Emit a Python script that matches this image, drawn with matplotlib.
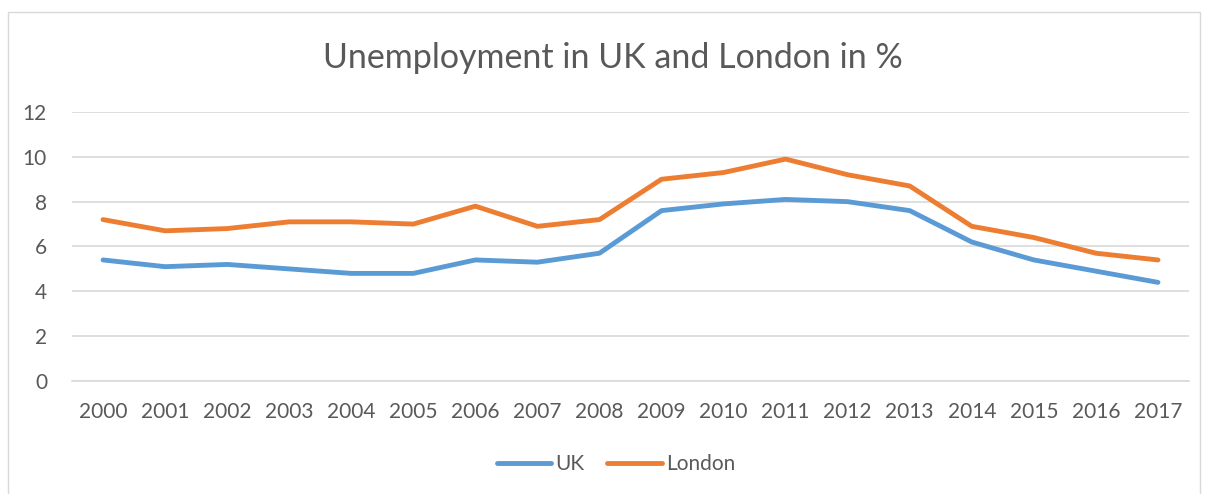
import matplotlib.pyplot as plt
from matplotlib.patches import Rectangle

# values
years = ['2000', '2001', '2002', '2003', '2004', '2005', '2006', '2007', '2008',
         '2009', '2010', '2011', '2012', '2013', '2014', '2015', '2016', '2017']
uk = [5.4, 5.1, 5.2, 5.0, 4.8, 4.8, 5.4, 5.3, 5.7,
      7.6, 7.9, 8.1, 8.0, 7.6, 6.2, 5.4, 4.9, 4.4]
london = [7.2, 6.7, 6.8, 7.1, 7.1, 7.0, 7.8, 6.9, 7.2,
          9.0, 9.3, 9.9, 9.2, 8.7, 6.9, 6.4, 5.7, 5.4]
y_ticks = [0, 2, 4, 6, 8, 10, 12]

plt.rcParams['font.family'] = ['Lato', 'DejaVu Sans']
text_col = '#595959'
grid_col = '#D9D9D9'

fig = plt.figure(figsize=(12.05, 4.94), dpi=100)
ax = fig.add_axes([72 / 1205, 1 - 381 / 494, (1189 - 72) / 1205, (381 - 112) / 494])

x = range(len(years))
ax.plot(x, uk, color='#5B9BD5', lw=3.5, solid_capstyle='round', solid_joinstyle='round', label='UK')
ax.plot(x, london, color='#ED7D31', lw=3.5, solid_capstyle='round', solid_joinstyle='round', label='London')

ax.set_xlim(-0.5, len(years) - 0.5)
ax.set_ylim(0, 12)
ax.set_yticks(y_ticks)
ax.set_xticks(list(x))
ax.set_xticklabels(years)
ax.tick_params(axis='both', length=0, labelsize=15, labelcolor=text_col)
ax.tick_params(axis='y', pad=18)
ax.tick_params(axis='x', pad=15)
ax.grid(axis='y', color=grid_col, lw=1.2)
ax.set_axisbelow(True)
for s in ['top', 'right', 'left']:
    ax.spines[s].set_visible(False)
ax.spines['bottom'].set_color(grid_col)
ax.spines['bottom'].set_linewidth(1.2)

fig.text(613 / 1205, 1 - 58 / 494, 'Unemployment in UK and London in %',
         ha='center', va='center', fontsize=24.5, color=text_col)

leg = fig.legend(loc='center', bbox_to_anchor=(616 / 1205, 1 - 464 / 494), ncol=2,
                 frameon=False, fontsize=15, handlelength=2.6, handletextpad=0.2,
                 columnspacing=1.1, labelcolor=text_col)

# light outer border of the chart box
fig.patches.append(Rectangle((8 / 1205, -0.05), (1200 - 8) / 1205, 1.05 - 12 / 494,
                             transform=fig.transFigure, fill=False,
                             edgecolor='#D9D9D9', lw=1))

fig.savefig('out.png', dpi=100)
